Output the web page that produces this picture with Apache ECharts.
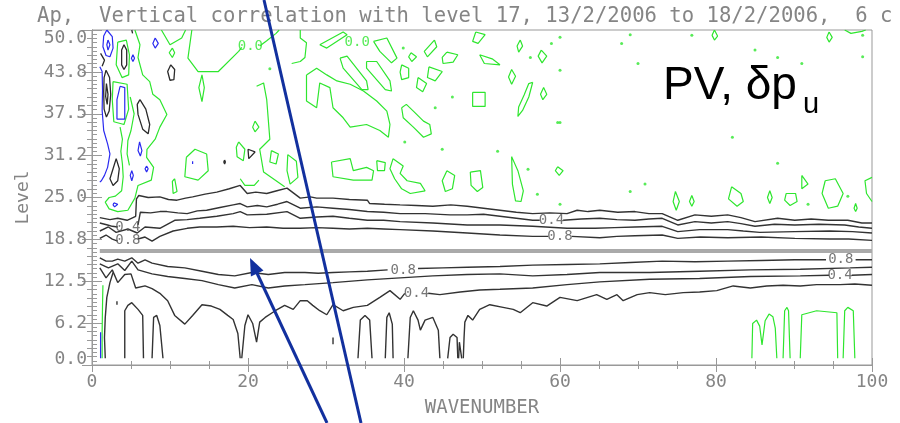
<!DOCTYPE html>
<html>
<head>
<meta charset="utf-8">
<script src="https://cdn.jsdelivr.net/npm/echarts@6/dist/echarts.min.js"></script>
<style>
  html, body { margin: 0; padding: 0; background: #fff; }
  #chart { width: 900px; height: 423px; }
</style>
</head>
<body>
<div id="chart"></div>
<script>
// 垂直相关：level 17 与其它层，按波数
const levelTickLabels = ['0.0', '6.2', '12.5', '18.8', '25.0', '31.2', '37.5', '43.8', '50.0'];
const refLevel = 17;

// 正相关等值线（黑色），null 表示标注断开处
const corrUp02 = [[1.0,22.0],[2.3,21.7],[3.3,21.9],[4.5,21.6],[5.6,22.2],[5.7,24.8],[6.0,25.3],[7.2,25.0],[8.7,25.1],[9.8,24.7],[10.9,24.6],[12.0,24.9],[12.9,25.1],[14.5,25.5],[16.0,25.8],[17.6,26.3],[19.0,26.8],[19.9,25.6],[21.0,25.8],[22.4,25.6],[23.7,26.0],[25.0,26.4],[26.7,24.9],[28.0,25.1],[28.8,24.9],[30.9,24.9],[33.0,24.7],[35.3,24.6],[35.6,24.1],[37.5,24.0],[39.5,23.9],[41.6,23.8],[43.7,23.7],[46.0,23.9],[48.1,23.7],[50.2,23.4],[52.3,23.1],[54.4,22.8],[56.5,22.6],[58.7,22.7],[60.9,22.6],[62.2,23.1],[63.6,22.9],[65.1,23.1],[67.4,22.8],[69.6,22.9],[71.4,22.6],[73.1,22.6],[75.1,21.6],[77.3,22.4],[79.4,22.2],[81.5,22.4],[83.2,22.0],[85.0,21.4],[87.9,21.9],[90.1,21.6],[92.2,21.8],[94.4,21.6],[96.9,21.6],[98.7,21.2],[100,21.2]];
const corrUp04 = [[1.0,21.2],[2.0,20.9],[2.6,20.7],[3.3,20.6],null,[5.9,20.9],[6.2,22.8],[7.5,22.7],[8.7,22.9],[9.6,22.9],[11.0,22.7],[12.2,22.6],[13.5,23.0],[14.7,23.1],[16.4,23.5],[18.1,23.9],[19.0,24.1],[19.9,23.6],[21.2,23.8],[22.4,23.6],[23.8,24.0],[25.0,24.4],[26.7,23.4],[28.8,23.6],[30.9,23.4],[33.0,23.2],[35.3,22.9],[37.4,22.8],[39.5,22.6],[42.7,22.6],[45.9,22.4],[48.1,22.4],[50.2,22.5],[52.3,22.2],[54.4,21.9],[56.5,21.6],[57.4,21.6],null,[60.4,21.6],[62.7,21.8],[65.1,21.9],[67.3,21.7],[69.6,21.6],[71.4,21.8],[73.1,21.9],[75.1,20.9],[77.3,21.4],[79.4,21.2],[81.5,21.4],[83.2,21.1],[85.0,20.7],[87.5,21.0],[90.1,20.9],[93.2,21.0],[96.5,20.9],[98.3,20.6],[100,20.4]];
const corrUp06 = [[1.0,20.0],[2.1,20.6],[3.1,19.8],[4.6,20.3],[5.8,19.7],[6.8,20.6],[8.7,20.4],[10.6,21.6],[12.2,21.7],[13.8,21.9],[16.0,22.2],[18.1,22.6],[19.0,22.9],[19.9,22.4],[22.4,22.5],[25.0,22.9],[26.7,21.9],[28.8,22.1],[30.9,22.2],[33.0,21.9],[35.3,21.6],[37.4,21.6],[39.5,21.4],[43.7,21.2],[48.1,20.9],[52.3,20.9],[56.5,20.7],[60.9,20.4],[64.5,20.4],[67.0,20.5],[69.6,20.6],[73.1,20.7],[75.1,19.9],[77.9,20.2],[81.5,20.2],[83.5,20.0],[85.6,19.8],[90.1,19.9],[94.6,20.0],[97.5,19.9],[100,19.7]];
const corrUp08 = [[1.0,18.9],[1.8,19.4],[2.6,18.8],[3.3,18.5],null,[5.9,18.8],[6.8,19.1],[7.7,18.5],[8.7,19.2],[10.4,20.0],[12.2,20.4],[13.8,20.6],[16.0,20.6],[18.1,20.7],[20.2,20.5],[22.4,20.6],[24.5,20.4],[26.7,20.4],[28.8,20.5],[30.9,20.4],[33.0,20.3],[35.3,20.4],[37.4,20.3],[39.5,20.2],[43.7,20.0],[48.1,19.7],[52.3,19.4],[56.5,19.2],[58.5,19.2],null,[61.5,19.2],[65.1,19.0],[67.3,19.2],[69.6,19.3],[73.1,19.4],[75.1,18.9],[78.0,19.1],[81.5,19.0],[85.8,19.1],[90.1,18.9],[94.6,18.8],[97.0,18.8],[100,18.6]];
const corrLo08 = [[1.0,16.0],[1.8,15.5],[2.6,15.5],[3.3,15.8],[4.2,15.5],[5.1,16.0],[5.9,15.2],[6.8,15.7],[7.7,15.2],[9.7,14.7],[11.9,14.5],[14.1,14.0],[16.2,13.5],[18.3,13.3],[20.5,13.8],[22.6,13.5],[24.7,13.8],[27.3,13.8],[29.0,13.7],[30.9,13.8],[33.0,13.9],[35.3,14.0],[37.9,14.2],null,[41.8,14.4],[45.0,14.5],[48.1,14.6],[52.3,14.7],[56.5,14.9],[60.9,15.0],[65.1,15.1],[69.0,15.3],[73.1,15.5],[77.3,15.4],[81.5,15.5],[85.8,15.6],[90.1,15.7],[94.1,15.7],null,[97.9,15.7],[100,15.7]];
const corrLo06 = [[1.0,15.1],[2.1,14.5],[3.3,15.1],[4.2,14.1],[5.1,15.5],[5.9,14.2],[7.7,13.6],[9.7,13.2],[11.9,12.9],[14.1,12.6],[16.2,12.0],[18.3,11.5],[20.5,12.0],[22.6,11.5],[24.7,11.8],[27.3,12.0],[30.9,12.3],[35.3,12.7],[39.5,13.0],[43.7,13.3],[48.1,13.5],[52.3,13.6],[56.5,13.3],[60.9,13.5],[65.1,13.8],[71.5,13.8],[77.9,14.0],[84.4,14.2],[90.8,14.3],[97.2,14.5],[100,14.6]];
const corrLo04 = [[1.0,14.5],[1.8,13.0],[2.6,14.2],[3.3,12.3],[4.2,13.5],[5.0,13.6],[5.6,11.5],[6.8,11.8],[7.7,11.4],[8.7,10.7],[9.7,9.6],[10.6,7.4],[11.9,6.1],[12.9,7.4],[14.1,9.0],[15.3,8.8],[16.4,8.3],[17.4,7.4],[18.1,6.8],[18.7,4.7],[19.0,1.0],null,[19.2,1.0],[19.6,5.9],[20.0,7.5],[20.6,6.2],[21.1,3.4],[21.5,6.4],[22.2,7.1],[23.5,8.1],[24.7,8.9],[25.8,8.3],[26.7,9.6],[27.6,9.6],[28.3,8.9],[29.2,8.1],[30.1,7.5],[30.9,9.0],[32.2,8.1],[33.5,8.6],[35.3,8.9],[36.9,10.1],[38.2,11.1],[39.5,9.8],[40.1,10.7],null,[43.1,10.7],[44.6,10.5],[47.2,10.9],[49.7,11.2],[52.3,11.3],[56.5,11.5],[60.9,12.0],[65.1,12.4],[71.5,12.8],[77.9,12.9],[84.4,13.2],[90.8,13.3],[94.5,13.4],null,[97.4,13.4],[100,13.5]];
const corrLo02 = [[47.6,1.0],[47.7,4.1],[47.8,6.4],[48.2,7.4],[48.8,6.7],[49.7,8.3],[51.0,9.0],[52.7,8.6],[54.0,8.3],[54.9,7.8],[56.5,9.3],[58.3,8.8],[60.0,10.1],[62.2,9.6],[64.7,10.5],[66.0,9.8],[67.3,10.5],[68.1,9.6],[69.9,10.5],[71.5,10.8],[73.5,10.5],[75.8,10.8],[77.9,10.9],[80.1,11.1],[82.2,11.8],[84.4,11.5],[86.5,11.8],[88.6,11.9],[90.8,11.8],[92.9,12.0],[95.9,12.0],[97.8,12.1],[100,11.9]];
const blackArches = [
  [[4.2,1.0],[4.2,8.1],[4.6,8.9],[5.1,9.3],[5.9,8.3],[6.5,7.4],[6.6,1.0]],
  [[7.7,1.0],[7.9,7.1],[8.3,7.4],[8.7,5.9],[9.1,1.0]],
  [[34.1,1.0],[34.4,6.7],[35.0,7.4],[35.6,6.7],[35.9,1.0]],
  [[37.6,1.0],[37.8,7.1],[38.1,7.8],[38.5,6.1],[38.6,1.0]],
  [[40.5,1.0],[40.8,7.1],[41.2,8.1],[41.8,6.7],[42.1,5.2],[42.7,6.7],[43.7,7.1],[44.4,5.2],[44.6,1.0]],
  [[45.6,1.0],[45.9,4.1],[46.3,4.6],[46.8,4.1],[46.9,1.0]],
  [[47.0,1.0],[47.1,3.4],[47.3,3.6],[47.4,1.0]],
  [[1.7,1.0],[1.6,4.1],[1.7,7.1],[1.9,10.1],[2.3,12.3],[2.7,13.8]],
  [[3.2,9.0],[3.2,9.5]],
  [[30.9,3.1],[30.9,4.1]]
];
const blackBlobs = [
  [[4.1,47.8],[4.45,47.0],[4.45,44.8],[4.1,44.1],[3.8,44.8],[3.8,47.0],[4.1,47.8]],
  [[1.8,44.0],[2.25,42.9],[2.4,40.4],[2.2,37.9],[1.85,37.0],[1.55,38.2],[1.5,40.8],[1.55,42.9],[1.8,44.0]],
  [[1.85,42.0],[2.05,40.4],[1.95,38.9],[1.75,40.1],[1.85,42.0]],
  [[6.15,39.6],[6.9,38.2],[7.4,35.9],[7.2,34.5],[6.5,35.2],[5.9,37.4],[5.8,38.9],[6.15,39.6]],
  [[10.1,44.8],[10.6,44.1],[10.5,42.6],[10.0,42.5],[9.7,43.8],[10.1,44.8]],
  [[20.0,32.2],[20.9,31.8],[20.1,30.8],[20.0,32.2]],
  [[17.0,30.6],[17.1,30.3],[17.0,30.0],[16.9,30.3],[17.0,30.6]],
  [[3.1,30.8],[3.5,29.3],[3.3,27.5],[2.7,26.8],[2.3,27.8],[2.7,29.3],[3.1,30.8]],
  [[5.1,50.0],[5.2,49.5]],
  [[1.1,46.5],[1.6,45.5],[1.3,44.6]]
];

// 负相关（蓝色）
const negContours = [
  [[1.9,50.0],[2.6,49.0],[2.7,47.3],[2.3,46.0],[1.8,46.2],[1.4,47.5],[1.5,49.1],[1.9,50.0]],
  [[2.05,48.5],[2.3,47.8],[2.05,47.0],[1.9,47.8],[2.05,48.5]],
  [[5.25,46.3],[5.45,45.8],[5.25,45.3],[5.05,45.8],[5.25,46.3]],
  [[8.1,48.8],[8.5,48.0],[8.1,47.3],[7.8,48.0],[8.1,48.8]],
  [[1.0,44.5],[1.3,43.8],[1.35,41.0],[1.3,38.0],[1.5,35.0],[2.0,33.0],[2.3,31.5],[2.0,29.5],[1.6,28.3],[1.2,27.5],[1.0,27.3]],
  [[3.6,41.6],[4.2,41.4],[4.2,36.7],[3.2,36.7],[3.2,39.6],[3.6,41.6]],
  [[6.1,33.3],[6.4,32.0],[6.2,31.2],[5.9,32.0],[6.1,33.3]],
  [[7.0,29.7],[7.2,29.3],[7.0,28.8],[6.8,29.3],[7.0,29.7]],
  [[5.1,29.0],[5.3,28.3],[5.1,27.5],[4.9,28.3],[5.1,29.0]],
  [[12.9,30.4],[13.0,30.2],[12.9,30.0],[12.8,30.2],[12.9,30.4]],
  [[2.8,24.2],[3.3,24.0],[2.9,23.6],[2.7,23.9],[2.8,24.2]],
  [[1.1,1.0],[1.1,4.9]]
];

// 零相关（绿色）
const zeroContours = [
  [[3.3,48.2],[4.4,48.5],[4.8,46.3],[4.7,43.3],[3.85,42.9],[3.1,44.8],[3.3,48.2]],
  [[2.7,42.3],[4.5,41.9],[4.7,38.2],[4.1,35.9],[2.8,36.3],[2.6,39.6],[2.7,42.3]],
  [[3.6,35.5],[3.9,33.7],[3.7,31.9],[3.9,30.0],[4.0,28.1],[3.8,26.0],[3.0,25.2],[2.2,25.0],[1.7,24.3],[2.2,23.3],[3.3,22.9],[4.6,23.1],[5.5,24.9],[5.9,26.8],[7.6,27.6],[7.9,29.5],[7.0,31.0],[7.05,32.2],[8.1,33.7],[8.7,35.5],[9.6,37.4],[8.7,39.6],[7.8,40.4],[7.4,42.3],[6.5,43.3],[5.9,45.9],[6.15,47.8],[5.5,50.0]],
  [[4.9,40.0],[5.4,37.5],[5.0,35.0],[4.6,33.5],[4.5,31.5],[4.8,29.8]],
  [[8.9,50.0],[10.0,47.8],[11.5,48.8],[12.0,50.0]],
  [[12.8,50.0],[12.3,45.8],[13.6,43.8],[16.2,43.8],[18.8,46.8],[19.2,47.4]],
  [[21.5,47.6],[22.4,48.4],[23.6,49.5],[24.0,50.0]],
  [[10.3,47.3],[10.6,46.6],[10.3,45.9],[9.9,46.6],[10.3,47.3]],
  [[14.1,43.3],[14.4,41.4],[14.1,39.3],[13.7,41.4],[14.1,43.3]],
  [[20.9,36.4],[21.4,35.5],[20.9,34.8],[20.6,35.5],[20.9,36.4]],
  [[21.1,41.6],[22.0,42.1],[22.4,39.6],[22.8,33.7],[21.5,32.2],[22.0,28.8],[24.7,26.6]],
  [[12.1,31.0],[13.2,32.2],[14.7,31.5],[14.9,29.0],[13.6,27.6],[11.9,28.1],[12.1,31.0]],
  [[18.8,33.3],[19.6,32.2],[19.4,30.5],[18.6,31.1],[18.5,32.5],[18.8,33.3]],
  [[23.0,32.0],[23.9,31.5],[23.6,30.0],[22.8,30.3],[23.0,32.0]],
  [[10.6,27.8],[10.9,25.9],[10.4,25.6],[10.3,27.4],[10.6,27.8]],
  [[19.0,27.8],[19.6,26.8],[20.8,26.8],[21.4,27.6]],
  [[25.1,31.4],[26.2,30.4],[26.4,28.0],[25.4,27.0],[25.0,29.0],[25.1,31.4]],
  [[29.2,47.8],[32.2,49.7],[32.7,49.3],[30.1,47.3],[29.2,47.8]],
  [[31.8,45.8],[32.7,46.1],[35.2,42.4],[35.4,41.1],[34.6,41.1],[32.2,44.3],[31.8,45.8]],
  [[35.2,45.3],[36.5,45.3],[38.2,42.4],[38.4,40.9],[37.6,41.1],[35.2,44.3],[35.2,45.3]],
  [[36.1,48.3],[37.8,48.8],[39.1,45.8],[38.4,45.1],[36.9,46.8],[36.1,48.3]],
  [[27.5,43.3],[28.8,44.3],[30.1,43.3],[31.4,42.4],[33.1,41.9],[34.8,40.9],[36.5,39.4],[37.8,37.9],[38.2,35.9],[38.0,34.0],[36.9,35.0],[35.2,35.9],[33.1,35.5],[32.2,36.9],[30.9,38.4],[30.5,41.4],[29.2,42.1],[28.8,38.4],[27.5,39.4],[27.5,43.3]],
  [[26.7,50.0],[26.7,48.8],[27.5,48.1],[27.3,45.9],[26.7,45.3],[25.6,45.0]],
  [[39.7,44.8],[40.6,44.3],[40.6,42.9],[39.7,42.6],[39.5,43.7],[39.7,44.8]],
  [[40.9,46.6],[41.6,46.0],[41.0,45.3],[40.6,46.0],[40.9,46.6]],
  [[41.8,42.9],[42.9,42.0],[42.4,40.8],[41.6,41.4],[41.8,42.9]],
  [[43.2,44.5],[44.9,43.8],[44.0,42.4],[43.0,42.9],[43.2,44.5]],
  [[43.9,48.5],[44.2,47.5],[43.0,46.0],[42.6,46.8],[43.9,48.5]],
  [[45.5,46.7],[46.9,46.3],[46.3,45.2],[45.0,45.0],[44.9,45.9],[45.5,46.7]],
  [[48.8,40.7],[50.4,40.7],[50.4,38.6],[48.8,38.6],[48.8,40.7]],
  [[56.5,42.2],[56.0,40.0],[55.2,38.0],[54.6,37.1],[54.7,38.5],[55.4,40.3],[56.0,42.0],[56.5,42.2]],
  [[49.7,46.3],[50.3,45.0],[52.3,44.8],[51.3,45.7],[49.7,46.3]],
  [[49.2,49.7],[50.4,49.3],[49.5,48.0],[48.8,48.3],[49.2,49.7]],
  [[53.8,44.1],[54.3,43.1],[53.8,41.9],[53.4,43.0],[53.8,44.1]],
  [[57.6,47.0],[58.3,46.1],[57.7,45.1],[57.2,46.1],[57.6,47.0]],
  [[57.9,41.4],[58.3,40.4],[57.8,39.6],[57.5,40.4],[57.9,41.4]],
  [[54.9,48.5],[55.2,47.6],[54.7,46.7],[54.5,47.6],[54.9,48.5]],
  [[39.7,38.4],[40.3,38.9],[41.2,37.9],[42.5,36.4],[43.3,35.9],[43.5,34.5],[42.5,34.0],[41.2,35.5],[39.9,36.9],[39.7,38.4]],
  [[30.7,30.3],[33.1,30.8],[33.5,29.0],[35.2,29.5],[36.1,29.0],[35.9,27.6],[33.5,27.6],[30.9,28.1],[30.7,30.3]],
  [[36.5,30.5],[37.6,30.2],[37.5,29.0],[36.6,29.0],[36.5,30.5]],
  [[38.6,30.8],[39.9,29.7],[39.5,28.6],[40.4,27.5],[42.1,27.1],[42.7,26.0],[40.8,25.6],[39.7,26.3],[38.8,27.8],[38.2,29.3],[38.6,30.8]],
  [[45.5,29.0],[46.5,28.3],[46.2,26.3],[45.3,25.9],[44.9,27.5],[45.5,29.0]],
  [[48.5,28.8],[49.8,29.0],[50.1,26.5],[49.4,25.9],[48.6,26.8],[48.5,28.8]],
  [[53.8,31.1],[54.6,29.0],[55.3,26.0],[55.0,24.4],[54.3,24.5],[53.9,27.0],[53.8,31.1]],
  [[59.7,29.6],[60.4,29.0],[59.9,28.3],[59.4,29.0],[59.7,29.6]],
  [[79.8,50.0],[80.2,49.1],[79.8,48.5],[79.5,49.2],[79.8,50.0]],
  [[94.5,49.7],[94.9,48.9],[94.5,48.2],[94.2,48.9],[94.5,49.7]],
  [[96.5,50.0],[97.3,49.5],[98.7,49.8],[99.2,50.0]],
  [[91.0,28.3],[91.8,27.0],[91.0,26.3],[91.0,28.3]],
  [[94.0,27.5],[95.3,27.8],[96.3,25.6],[95.6,23.7],[94.4,23.4],[93.6,25.6],[94.0,27.5]],
  [[100,28.0],[99.1,27.5],[99.3,25.6],[100,24.4]],
  [[97.9,24.1],[98.1,23.4],[97.9,22.9],[97.7,23.4],[97.9,24.1]],
  [[74.8,25.9],[75.3,24.4],[74.9,23.1],[74.5,24.4],[74.8,25.9]],
  [[76.9,25.3],[77.2,24.4],[76.9,23.7],[76.6,24.4],[76.9,25.3]],
  [[82.0,26.6],[83.2,25.6],[83.5,24.4],[82.7,23.7],[81.6,24.8],[82.0,26.6]],
  [[86.9,26.0],[87.2,25.0],[86.9,24.1],[86.6,25.0],[86.9,26.0]],
  [[89.0,25.6],[90.2,25.6],[90.4,24.4],[89.5,23.8],[88.8,24.6],[89.0,25.6]],
  [[84.6,1.0],[84.7,6.2],[85.2,6.7],[85.6,5.8],[85.9,3.0],[86.3,6.6],[86.8,7.6],[87.3,7.2],[87.6,5.5],[87.8,1.0]],
  [[88.6,1.0],[88.8,8.1],[89.1,8.6],[89.3,8.1],[89.5,1.0]],
  [[90.8,1.0],[91.0,7.5],[92.9,8.1],[95.5,7.8],[95.6,1.0]],
  [[96.3,1.0],[96.5,8.1],[96.9,8.6],[97.6,8.1],[97.8,1.0]],
  [[1.3,1.0],[1.3,5.0],[1.35,9.0],[1.4,11.9]]
];
const zeroSpecks = [[39.9,47.3],[46.2,40.0],[44.9,32.2],[52.0,31.9],[44.0,38.4],[40.1,33.3],[56.2,45.9],[60.0,48.9],[58.9,48.0],[59.7,36.2],[55.9,29.2],[67.9,48.0],[69.0,49.3],[76.9,49.2],[70.0,45.0],[85.0,47.0],[87.9,45.9],[91.0,45.0],[82.1,34.0],[87.9,30.1],[98.8,46.0],[98.8,49.2],[60.0,44.0],[60.0,36.2],[69.0,25.9],[70.9,27.0],[91.8,24.0],[96.9,25.2],[57.1,25.5],[60.0,24.0],[22.8,44.2]];

// 等值线标注
const contourLabels = [[4.6,20.6,'0.4'],[4.6,18.6,'0.8'],[58.9,21.6,'0.4'],[60.0,19.2,'0.8'],[39.9,14.2,'0.8'],[41.6,10.7,'0.4'],[96.0,15.7,'0.8'],[95.9,13.4,'0.4']];
const zeroLabels = [[20.3,47.5,'0.0'],[34.0,48.1,'0.0']];

const GREY = '#858585';
const MONO = '"DejaVu Sans Mono", monospace';
const series = [];

// 按 null 切分成多段折线
function addPaths(paths, color, width, z) {
    paths.forEach(path => {
        let seg = [];
        path.concat([null]).forEach(p => {
            if (p === null) {
                if (seg.length) {
                    series.push({
                        type: 'line', data: seg, symbol: 'none', silent: true, z: z,
                        lineStyle: { color: color, width: width }
                    });
                }
                seg = [];
            } else {
                seg.push(p);
            }
        });
    });
}

series.push({
    type: 'line', data: [[1, refLevel], [100, refLevel]], symbol: 'none', silent: true, z: 3,
    lineStyle: { color: '#aaaaaa', width: 4 }
});
addPaths(zeroContours, '#2ee62e', 1.2, 2);
addPaths(negContours, '#2a2af0', 1.2, 2);
addPaths(blackBlobs, '#2b2b2b', 1.3, 2);
addPaths([corrUp02, corrUp04, corrUp06, corrUp08, corrLo08, corrLo06, corrLo04, corrLo02], '#333333', 1.4, 2);
addPaths(blackArches, '#333333', 1.4, 2);

series.push({
    type: 'scatter', data: zeroSpecks, symbolSize: 3, silent: true, z: 2,
    itemStyle: { color: '#2ee62e' }
});
series.push({
    type: 'scatter', data: contourLabels, symbolSize: 0, silent: true, z: 4,
    label: { show: true, position: 'inside', formatter: p => p.data[2], color: '#555', fontSize: 14, fontFamily: MONO }
});
series.push({
    type: 'scatter', data: zeroLabels, symbolSize: 0, silent: true, z: 4,
    label: { show: true, position: 'inside', formatter: p => p.data[2], color: '#2ee62e', fontSize: 14, fontFamily: MONO }
});

const chart = echarts.init(document.getElementById('chart'));
chart.setOption({
    animation: false,
    backgroundColor: '#fff',
    title: {
        text: 'Ap,  Vertical correlation with level 17, 13/2/2006 to 18/2/2006,  6 c',
        left: 37, top: 6, padding: 0,
        textStyle: { fontFamily: MONO, fontSize: 20.6, fontWeight: 'normal', color: GREY }
    },
    grid: { left: 92, right: 28, top: 30, bottom: 55, show: true, borderColor: '#999', borderWidth: 1 },
    xAxis: [{
        type: 'value', min: 0, max: 100, interval: 20, position: 'bottom',
        name: 'WAVENUMBER', nameLocation: 'middle', nameGap: 34,
        nameTextStyle: { fontFamily: MONO, fontSize: 19, color: GREY },
        axisLine: { show: true, lineStyle: { color: '#999' } },
        axisTick: { show: true, inside: true, length: 7, lineStyle: { color: '#999' } },
        minorTick: { show: true, splitNumber: 4, length: 4, lineStyle: { color: '#999' } },
        axisLabel: { fontFamily: MONO, fontSize: 18, color: GREY, margin: 8 },
        splitLine: { show: false }
    }, {
        type: 'value', min: 0, max: 100, interval: 20, position: 'top',
        axisLine: { show: true, lineStyle: { color: '#999' } },
        axisTick: { show: true, inside: true, length: 7, lineStyle: { color: '#999' } },
        minorTick: { show: true, splitNumber: 4, length: 4, lineStyle: { color: '#999' } },
        axisLabel: { show: false },
        splitLine: { show: false }
    }],
    yAxis: [{
        type: 'value', min: 0, max: 50, interval: 6.25, position: 'left',
        name: 'Level', nameLocation: 'middle', nameGap: 60,
        nameTextStyle: { fontFamily: MONO, fontSize: 18, color: GREY },
        axisLine: { show: true, lineStyle: { color: '#999' } },
        axisTick: { show: true, inside: true, length: 10, lineStyle: { color: '#999' } },
        minorTick: { show: true, splitNumber: 10, length: 5, lineStyle: { color: '#999' } },
        axisLabel: {
            fontFamily: MONO, fontSize: 18, color: GREY, margin: 5,
            formatter: v => {
                const i = Math.round(v / 6.25);
                if (i === 0) return '{lo|' + levelTickLabels[i] + '}';
                if (i === 8) return '{hi|' + levelTickLabels[i] + '}';
                return levelTickLabels[i];
            },
            rich: {
                lo: { fontFamily: MONO, fontSize: 18, color: GREY, padding: [0, 0, 12, 0] },
                hi: { fontFamily: MONO, fontSize: 18, color: GREY, padding: [16, 0, 0, 0] }
            }
        },
        splitLine: { show: false }
    }, {
        type: 'value', min: 0, max: 50, interval: 6.25, position: 'right',
        axisLine: { show: true, lineStyle: { color: '#999' } },
        axisTick: { show: true, inside: true, length: 10, lineStyle: { color: '#999' } },
        minorTick: { show: true, splitNumber: 5, length: 5, lineStyle: { color: '#999' } },
        axisLabel: { show: false },
        splitLine: { show: false }
    }],
    series: series,
    graphic: [
        { type: 'text', x: 663, y: 86, z: 50, style: { text: 'PV, δp', fontSize: 46, fontFamily: '"Liberation Sans", Arial', fill: '#000', verticalAlign: 'middle' } },
        { type: 'text', x: 803, y: 105, z: 50, style: { text: 'u', fontSize: 29, fontFamily: '"Liberation Sans", Arial', fill: '#000', verticalAlign: 'middle' } },
        { type: 'line', z: 60, shape: { x1: 264, y1: 0, x2: 361, y2: 423 }, style: { stroke: '#12309e', lineWidth: 3 } },
        { type: 'line', z: 60, shape: { x1: 327, y1: 423, x2: 256, y2: 271 }, style: { stroke: '#12309e', lineWidth: 3 } },
        { type: 'polygon', z: 60, shape: { points: [[250, 258], [263.5, 270.4], [250.9, 276.4]] }, style: { fill: '#12309e' } }
    ]
});
</script>
</body>
</html>
